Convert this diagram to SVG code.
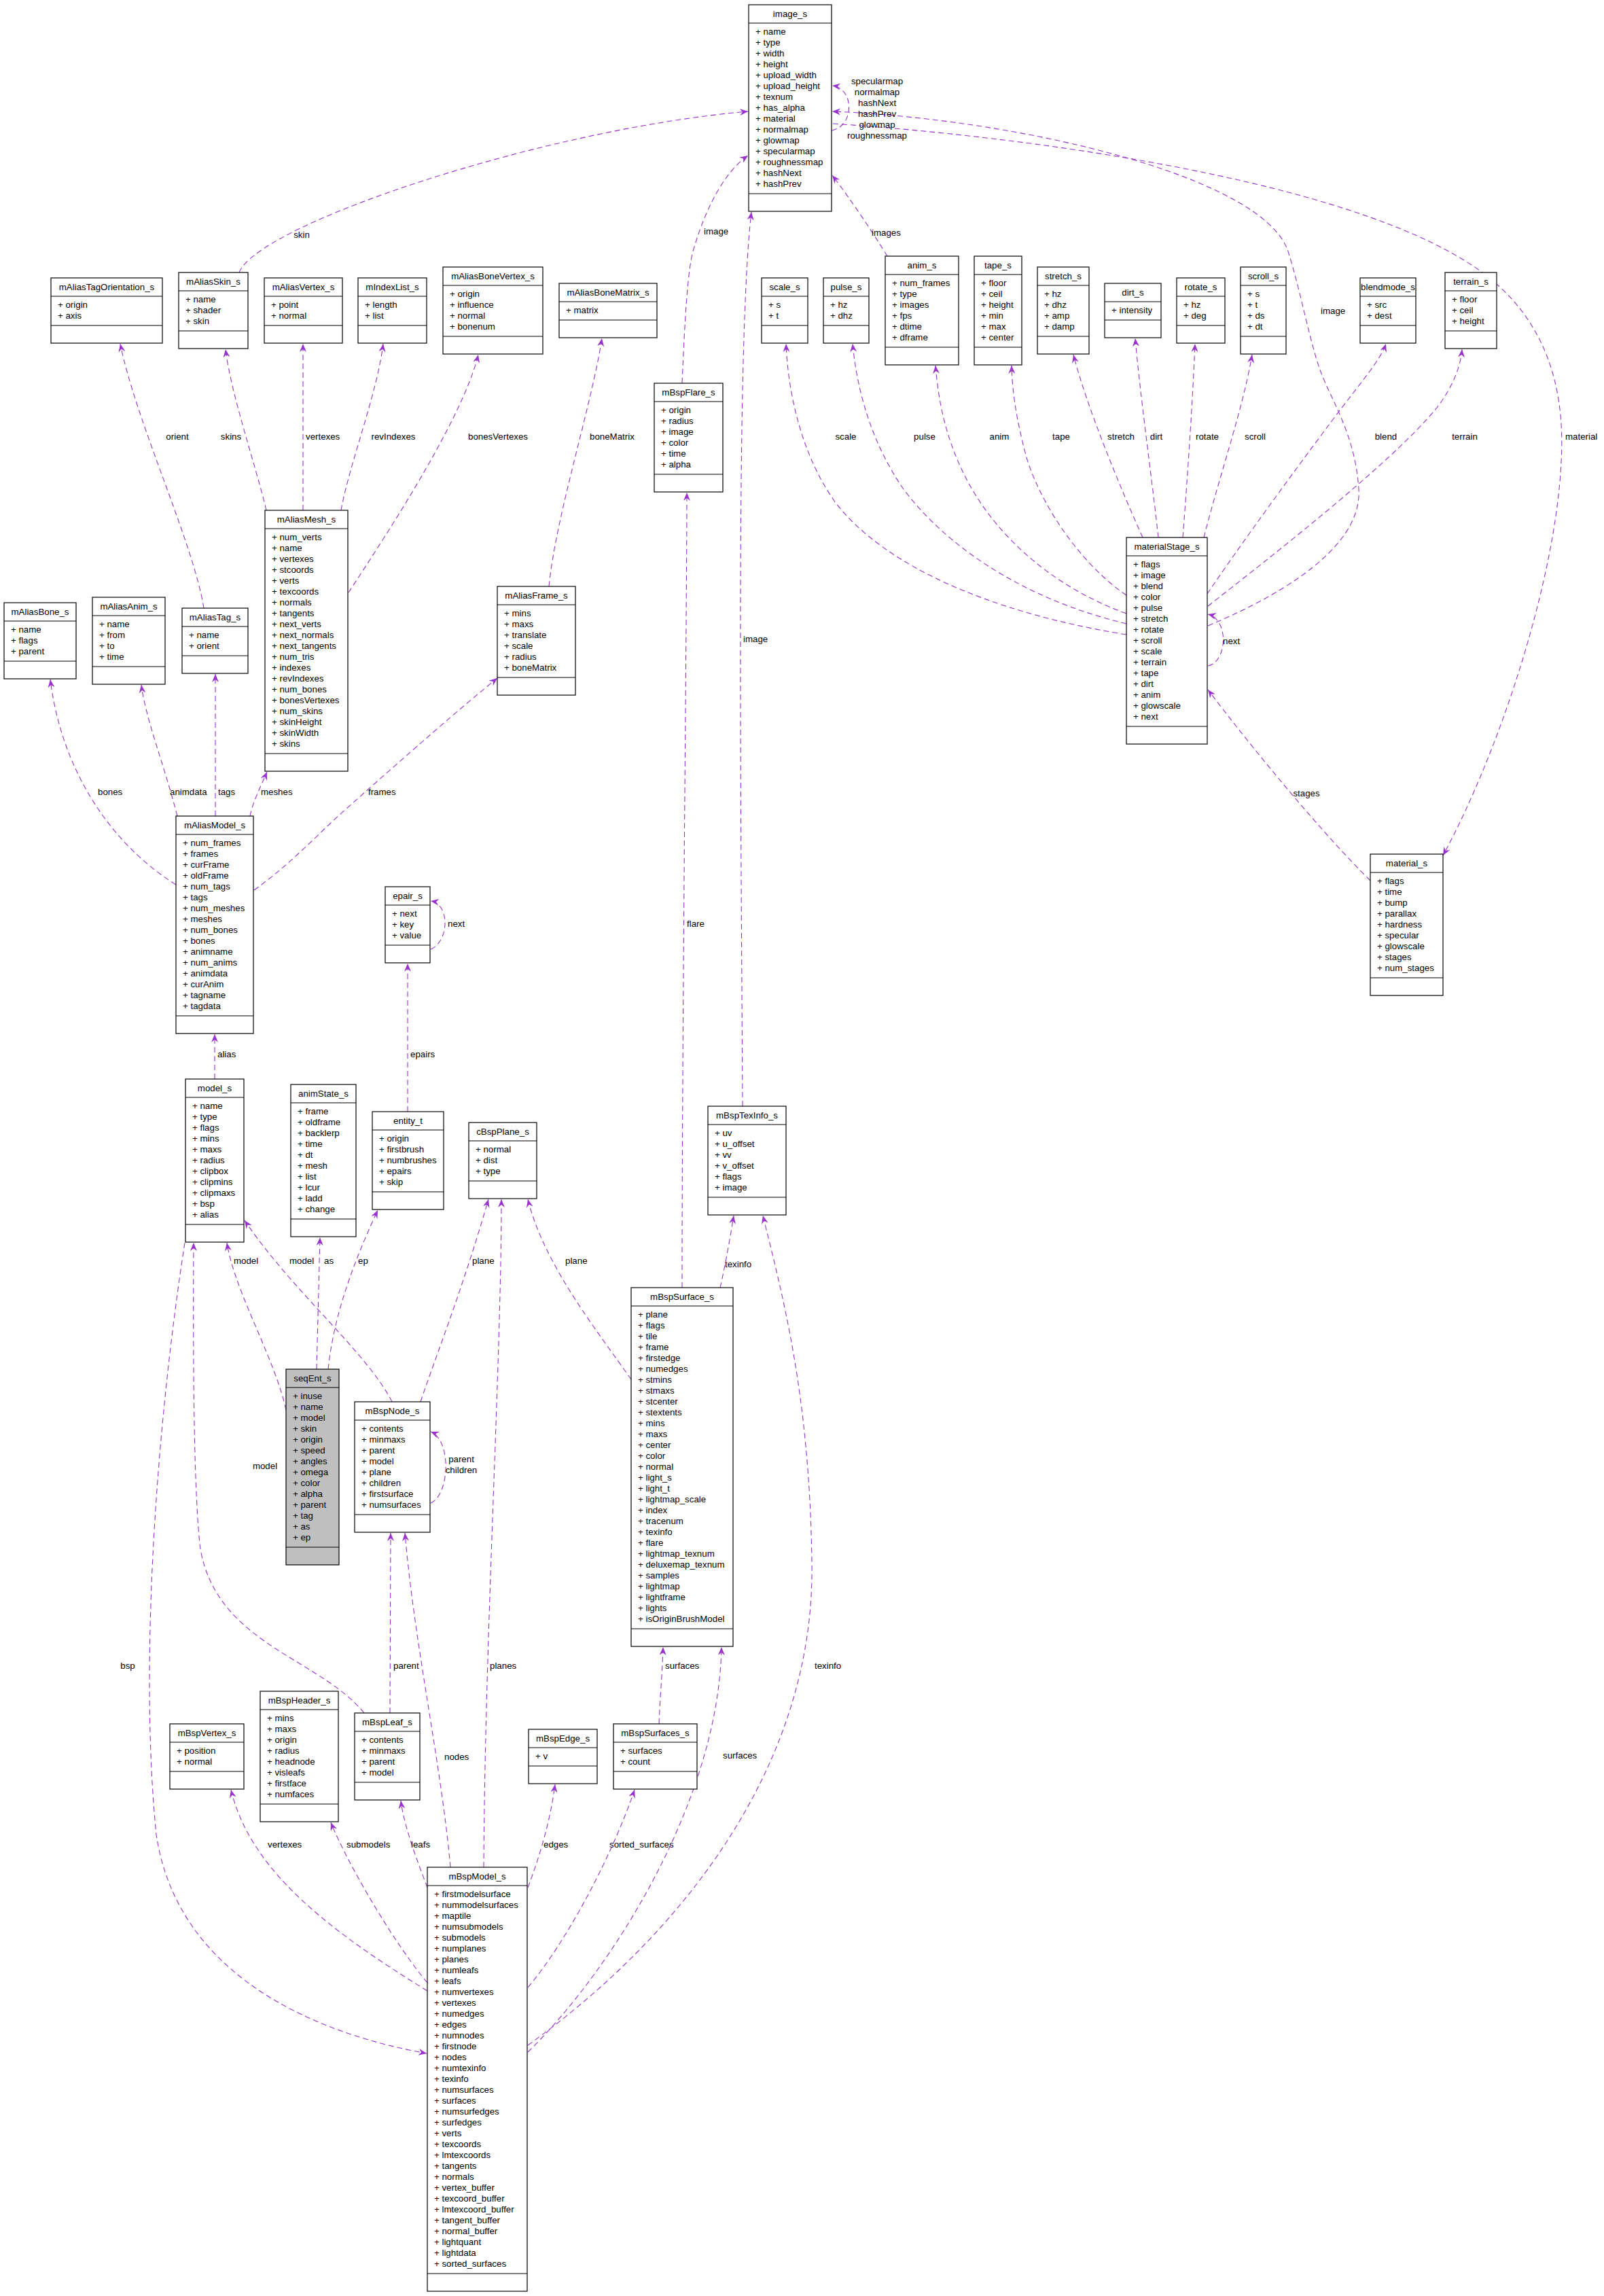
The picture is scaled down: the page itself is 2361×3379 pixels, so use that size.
<svg xmlns="http://www.w3.org/2000/svg" width="2361" height="3379" viewBox="0 0 2361 3379">
<defs>
<marker id="ah" viewBox="0 0 12 10" refX="12" refY="5" markerWidth="12" markerHeight="10" orient="auto" markerUnits="userSpaceOnUse"><path d="M0,0 L12,5 L0,10 L4,5 z" fill="#9a32cd"/></marker>
</defs>
<style>
.n rect{fill:#fff;stroke:#000;stroke-width:1.2}
.n line{stroke:#000;stroke-width:1.2}
#seqEnt_s rect{fill:#bfbfbf}
text{font-family:"Liberation Sans",Arial,Helvetica,sans-serif;font-size:13.3px;fill:#000}
.t,.m{text-anchor:middle}
.e path{fill:none;stroke:#9a32cd;stroke-width:1.1;stroke-dasharray:8,5;marker-end:url(#ah)}
</style>
<rect width="2361" height="3379" fill="#fff"/>
<g id="connectors" class="e">
<path d="M1224,192 C1258,186 1258,130 1225,126"/>
<path d="M352,401 C380,330 800,190 1101,164"/>
<path d="M1004,564 C1008,470 1012,400 1020,370 C1040,300 1070,250 1101,229"/>
<path d="M1093,1628 C1090,1100 1084,500 1106,312"/>
<path d="M1306,377 C1290,350 1250,290 1225,258"/>
<path d="M1778,921 C1900,870 2005,800 2000,720 C1995,640 1960,590 1944,547 C1928,504 1915,430 1896,370 C1860,260 1500,175 1225,164"/>
<path d="M1226,182 C1500,200 1950,260 2150,380 C2270,450 2305,560 2298,680 C2290,850 2210,1100 2124,1259"/>
<path d="M300,895 C285,800 200,620 177,506"/>
<path d="M392,751 C375,680 340,580 332,514"/>
<path d="M446,751 L446,506"/>
<path d="M502,751 C515,680 555,580 564,506"/>
<path d="M513,872 C560,800 680,620 704,522"/>
<path d="M808,863 C818,760 870,600 886,498"/>
<path d="M1658,934 C1450,900 1300,830 1230,740 C1180,670 1160,580 1157,506"/>
<path d="M1658,918 C1500,880 1390,800 1330,720 C1285,655 1262,580 1255,506"/>
<path d="M1658,903 C1540,860 1460,780 1420,700 C1395,650 1382,600 1377,538"/>
<path d="M1658,876 C1590,830 1530,740 1510,670 C1497,620 1490,580 1489,538"/>
<path d="M1682,791 C1650,720 1600,600 1580,522"/>
<path d="M1705,791 C1695,700 1678,580 1671,498"/>
<path d="M1741,791 C1748,700 1755,600 1759,506"/>
<path d="M1772,791 C1795,700 1830,600 1843,522"/>
<path d="M1777,874 C1820,810 1900,700 1960,620 C2005,560 2032,530 2040,506"/>
<path d="M1778,892 C1870,820 2050,680 2115,600 C2138,570 2150,540 2152,514"/>
<path d="M1778,980 C1806,975 1810,912 1778,904"/>
<path d="M2017,1296 C1950,1230 1850,1110 1778,1015"/>
<path d="M259,1302 C160,1240 90,1130 74,1000"/>
<path d="M261,1201 C240,1120 215,1060 208,1008"/>
<path d="M317,1201 L317,992"/>
<path d="M368,1201 C372,1180 385,1155 393,1136"/>
<path d="M374,1310 C430,1270 470,1225 510,1190 C600,1110 680,1040 732,998"/>
<path d="M316,1588 L316,1522"/>
<path d="M634,1397 C662,1385 662,1330 634,1326"/>
<path d="M600,1636 L600,1418"/>
<path d="M466,2015 L471,1821"/>
<path d="M483,2015 C490,1950 510,1880 556,1781"/>
<path d="M421,2075 C405,2000 345,1900 334,1829"/>
<path d="M577,2063 C540,1990 430,1900 360,1796"/>
<path d="M536,2521 C470,2440 320,2420 295,2280 C285,2200 284,2000 285,1829"/>
<path d="M619,2063 C640,2000 680,1900 719,1765"/>
<path d="M929,2030 C880,1960 800,1860 777,1765"/>
<path d="M712,2748 C714,2400 738,2000 738,1765"/>
<path d="M1060,1895 C1068,1860 1075,1820 1080,1789"/>
<path d="M777,3010 C1000,2850 1200,2600 1195,2300 C1192,2050 1150,1900 1123,1789"/>
<path d="M272,1829 C230,2100 205,2450 230,2700 C260,2900 450,2990 628,3022"/>
<path d="M663,2748 C650,2600 610,2420 596,2256"/>
<path d="M574,2521 L575,2256"/>
<path d="M634,2212 C662,2200 665,2120 634,2107"/>
<path d="M629,2778 C615,2740 595,2690 590,2650"/>
<path d="M629,2918 C580,2860 510,2740 487,2682"/>
<path d="M629,2930 C500,2850 370,2760 340,2634"/>
<path d="M777,2778 C795,2730 810,2680 817,2626"/>
<path d="M777,2925 C840,2850 905,2720 934,2634"/>
<path d="M970,2537 C972,2490 975,2460 976,2424"/>
<path d="M777,3020 C900,2900 1058,2650 1062,2424"/>
<path d="M1004,1895 C1004,1500 1011,900 1011,725"/>
<text class="m" x="1291" y="123.5">specularmap</text>
<text class="m" x="1291" y="139.5">normalmap</text>
<text class="m" x="1291" y="155.5">hashNext</text>
<text class="m" x="1291" y="171.5">hashPrev</text>
<text class="m" x="1291" y="187.5">glowmap</text>
<text class="m" x="1291" y="203.5">roughnessmap</text>
<text class="m" x="444" y="349.5">skin</text>
<text x="1036" y="344.5">image</text>
<text x="1283" y="346.5">images</text>
<text x="1944" y="461.5">image</text>
<text class="m" x="261" y="646.5">orient</text>
<text class="m" x="340" y="646.5">skins</text>
<text x="450" y="646.5">vertexes</text>
<text class="m" x="579" y="646.5">revIndexes</text>
<text x="689" y="646.5">bonesVertexes</text>
<text x="868" y="646.5">boneMatrix</text>
<text class="m" x="1245" y="646.5">scale</text>
<text class="m" x="1361" y="646.5">pulse</text>
<text class="m" x="1471" y="646.5">anim</text>
<text class="m" x="1562" y="646.5">tape</text>
<text class="m" x="1650" y="646.5">stretch</text>
<text class="m" x="1702" y="646.5">dirt</text>
<text x="1760" y="646.5">rotate</text>
<text x="1832" y="646.5">scroll</text>
<text class="m" x="2040" y="646.5">blend</text>
<text class="m" x="2156" y="646.5">terrain</text>
<text x="2304" y="646.5">material</text>
<text x="1094" y="945">image</text>
<text x="1800" y="947.5">next</text>
<text x="144" y="1169.5">bones</text>
<text x="250" y="1169.5">animdata</text>
<text x="321" y="1169.5">tags</text>
<text x="384" y="1169.5">meshes</text>
<text x="542" y="1169.5">frames</text>
<text class="m" x="1923" y="1172">stages</text>
<text x="1011" y="1363.5">flare</text>
<text x="659" y="1363.5">next</text>
<text x="320" y="1555.5">alias</text>
<text x="604" y="1555.5">epairs</text>
<text x="344" y="1859.5">model</text>
<text x="426" y="1859.5">model</text>
<text x="477" y="1859.5">as</text>
<text x="527" y="1859.5">ep</text>
<text x="695" y="1859.5">plane</text>
<text x="832" y="1859.5">plane</text>
<text x="1067" y="1864.5">texinfo</text>
<text class="m" x="390" y="2161.5">model</text>
<text class="m" x="679" y="2152">parent</text>
<text class="m" x="679" y="2168">children</text>
<text class="m" x="188" y="2455.5">bsp</text>
<text x="579" y="2455.5">parent</text>
<text x="721" y="2455.5">planes</text>
<text x="979" y="2455.5">surfaces</text>
<text x="1199" y="2455.5">texinfo</text>
<text x="654" y="2589.5">nodes</text>
<text x="1064" y="2587.5">surfaces</text>
<text x="394" y="2718.5">vertexes</text>
<text x="510" y="2718.5">submodels</text>
<text x="605" y="2718.5">leafs</text>
<text x="800" y="2718.5">edges</text>
<text x="897" y="2718.5">sorted_surfaces</text>
</g>
<g id="image_s" class="n"><rect x="1102" y="7" width="122" height="304"/><line x1="1102" y1="34" x2="1224" y2="34"/><line x1="1102" y1="285" x2="1224" y2="285"/><text class="t" x="1163" y="25">image_s</text><text x="1112" y="50.5"><tspan x="1112">+ name</tspan><tspan x="1112" dy="16">+ type</tspan><tspan x="1112" dy="16">+ width</tspan><tspan x="1112" dy="16">+ height</tspan><tspan x="1112" dy="16">+ upload_width</tspan><tspan x="1112" dy="16">+ upload_height</tspan><tspan x="1112" dy="16">+ texnum</tspan><tspan x="1112" dy="16">+ has_alpha</tspan><tspan x="1112" dy="16">+ material</tspan><tspan x="1112" dy="16">+ normalmap</tspan><tspan x="1112" dy="16">+ glowmap</tspan><tspan x="1112" dy="16">+ specularmap</tspan><tspan x="1112" dy="16">+ roughnessmap</tspan><tspan x="1112" dy="16">+ hashNext</tspan><tspan x="1112" dy="16">+ hashPrev</tspan></text></g>
<g id="mAliasTagOrientation_s" class="n"><rect x="75" y="409" width="164" height="96"/><line x1="75" y1="436" x2="239" y2="436"/><line x1="75" y1="479" x2="239" y2="479"/><text class="t" x="157" y="427">mAliasTagOrientation_s</text><text x="85" y="452.5"><tspan x="85">+ origin</tspan><tspan x="85" dy="16">+ axis</tspan></text></g>
<g id="mAliasSkin_s" class="n"><rect x="263" y="401" width="102" height="112"/><line x1="263" y1="428" x2="365" y2="428"/><line x1="263" y1="487" x2="365" y2="487"/><text class="t" x="314" y="419">mAliasSkin_s</text><text x="273" y="444.5"><tspan x="273">+ name</tspan><tspan x="273" dy="16">+ shader</tspan><tspan x="273" dy="16">+ skin</tspan></text></g>
<g id="mAliasVertex_s" class="n"><rect x="389" y="409" width="115" height="96"/><line x1="389" y1="436" x2="504" y2="436"/><line x1="389" y1="479" x2="504" y2="479"/><text class="t" x="446.5" y="427">mAliasVertex_s</text><text x="399" y="452.5"><tspan x="399">+ point</tspan><tspan x="399" dy="16">+ normal</tspan></text></g>
<g id="mIndexList_s" class="n"><rect x="527" y="409" width="101" height="96"/><line x1="527" y1="436" x2="628" y2="436"/><line x1="527" y1="479" x2="628" y2="479"/><text class="t" x="577.5" y="427">mIndexList_s</text><text x="537" y="452.5"><tspan x="537">+ length</tspan><tspan x="537" dy="16">+ list</tspan></text></g>
<g id="mAliasBoneVertex_s" class="n"><rect x="652" y="393" width="147" height="128"/><line x1="652" y1="420" x2="799" y2="420"/><line x1="652" y1="495" x2="799" y2="495"/><text class="t" x="725.5" y="411">mAliasBoneVertex_s</text><text x="662" y="436.5"><tspan x="662">+ origin</tspan><tspan x="662" dy="16">+ influence</tspan><tspan x="662" dy="16">+ normal</tspan><tspan x="662" dy="16">+ bonenum</tspan></text></g>
<g id="mAliasBoneMatrix_s" class="n"><rect x="823" y="417" width="144" height="80"/><line x1="823" y1="444" x2="967" y2="444"/><line x1="823" y1="471" x2="967" y2="471"/><text class="t" x="895" y="435">mAliasBoneMatrix_s</text><text x="833" y="460.5">+ matrix</text></g>
<g id="mBspFlare_s" class="n"><rect x="963" y="564" width="101" height="160"/><line x1="963" y1="591" x2="1064" y2="591"/><line x1="963" y1="698" x2="1064" y2="698"/><text class="t" x="1013.5" y="582">mBspFlare_s</text><text x="973" y="607.5"><tspan x="973">+ origin</tspan><tspan x="973" dy="16">+ radius</tspan><tspan x="973" dy="16">+ image</tspan><tspan x="973" dy="16">+ color</tspan><tspan x="973" dy="16">+ time</tspan><tspan x="973" dy="16">+ alpha</tspan></text></g>
<g id="scale_s" class="n"><rect x="1121" y="409" width="68" height="96"/><line x1="1121" y1="436" x2="1189" y2="436"/><line x1="1121" y1="479" x2="1189" y2="479"/><text class="t" x="1155" y="427">scale_s</text><text x="1131" y="452.5"><tspan x="1131">+ s</tspan><tspan x="1131" dy="16">+ t</tspan></text></g>
<g id="pulse_s" class="n"><rect x="1212" y="409" width="67" height="96"/><line x1="1212" y1="436" x2="1279" y2="436"/><line x1="1212" y1="479" x2="1279" y2="479"/><text class="t" x="1245.5" y="427">pulse_s</text><text x="1222" y="452.5"><tspan x="1222">+ hz</tspan><tspan x="1222" dy="16">+ dhz</tspan></text></g>
<g id="anim_s" class="n"><rect x="1303" y="377" width="108" height="160"/><line x1="1303" y1="404" x2="1411" y2="404"/><line x1="1303" y1="511" x2="1411" y2="511"/><text class="t" x="1357" y="395">anim_s</text><text x="1313" y="420.5"><tspan x="1313">+ num_frames</tspan><tspan x="1313" dy="16">+ type</tspan><tspan x="1313" dy="16">+ images</tspan><tspan x="1313" dy="16">+ fps</tspan><tspan x="1313" dy="16">+ dtime</tspan><tspan x="1313" dy="16">+ dframe</tspan></text></g>
<g id="tape_s" class="n"><rect x="1434" y="377" width="70" height="160"/><line x1="1434" y1="404" x2="1504" y2="404"/><line x1="1434" y1="511" x2="1504" y2="511"/><text class="t" x="1469" y="395">tape_s</text><text x="1444" y="420.5"><tspan x="1444">+ floor</tspan><tspan x="1444" dy="16">+ ceil</tspan><tspan x="1444" dy="16">+ height</tspan><tspan x="1444" dy="16">+ min</tspan><tspan x="1444" dy="16">+ max</tspan><tspan x="1444" dy="16">+ center</tspan></text></g>
<g id="stretch_s" class="n"><rect x="1527" y="393" width="76" height="128"/><line x1="1527" y1="420" x2="1603" y2="420"/><line x1="1527" y1="495" x2="1603" y2="495"/><text class="t" x="1565" y="411">stretch_s</text><text x="1537" y="436.5"><tspan x="1537">+ hz</tspan><tspan x="1537" dy="16">+ dhz</tspan><tspan x="1537" dy="16">+ amp</tspan><tspan x="1537" dy="16">+ damp</tspan></text></g>
<g id="dirt_s" class="n"><rect x="1626" y="417" width="83" height="80"/><line x1="1626" y1="444" x2="1709" y2="444"/><line x1="1626" y1="471" x2="1709" y2="471"/><text class="t" x="1667.5" y="435">dirt_s</text><text x="1636" y="460.5">+ intensity</text></g>
<g id="rotate_s" class="n"><rect x="1732" y="409" width="71" height="96"/><line x1="1732" y1="436" x2="1803" y2="436"/><line x1="1732" y1="479" x2="1803" y2="479"/><text class="t" x="1767.5" y="427">rotate_s</text><text x="1742" y="452.5"><tspan x="1742">+ hz</tspan><tspan x="1742" dy="16">+ deg</tspan></text></g>
<g id="scroll_s" class="n"><rect x="1826" y="393" width="67" height="128"/><line x1="1826" y1="420" x2="1893" y2="420"/><line x1="1826" y1="495" x2="1893" y2="495"/><text class="t" x="1859.5" y="411">scroll_s</text><text x="1836" y="436.5"><tspan x="1836">+ s</tspan><tspan x="1836" dy="16">+ t</tspan><tspan x="1836" dy="16">+ ds</tspan><tspan x="1836" dy="16">+ dt</tspan></text></g>
<g id="blendmode_s" class="n"><rect x="2002" y="409" width="82" height="96"/><line x1="2002" y1="436" x2="2084" y2="436"/><line x1="2002" y1="479" x2="2084" y2="479"/><text class="t" x="2043" y="427">blendmode_s</text><text x="2012" y="452.5"><tspan x="2012">+ src</tspan><tspan x="2012" dy="16">+ dest</tspan></text></g>
<g id="terrain_s" class="n"><rect x="2127" y="401" width="76" height="112"/><line x1="2127" y1="428" x2="2203" y2="428"/><line x1="2127" y1="487" x2="2203" y2="487"/><text class="t" x="2165" y="419">terrain_s</text><text x="2137" y="444.5"><tspan x="2137">+ floor</tspan><tspan x="2137" dy="16">+ ceil</tspan><tspan x="2137" dy="16">+ height</tspan></text></g>
<g id="mAliasMesh_s" class="n"><rect x="390" y="751" width="122" height="384"/><line x1="390" y1="778" x2="512" y2="778"/><line x1="390" y1="1109" x2="512" y2="1109"/><text class="t" x="451" y="769">mAliasMesh_s</text><text x="400" y="794.5"><tspan x="400">+ num_verts</tspan><tspan x="400" dy="16">+ name</tspan><tspan x="400" dy="16">+ vertexes</tspan><tspan x="400" dy="16">+ stcoords</tspan><tspan x="400" dy="16">+ verts</tspan><tspan x="400" dy="16">+ texcoords</tspan><tspan x="400" dy="16">+ normals</tspan><tspan x="400" dy="16">+ tangents</tspan><tspan x="400" dy="16">+ next_verts</tspan><tspan x="400" dy="16">+ next_normals</tspan><tspan x="400" dy="16">+ next_tangents</tspan><tspan x="400" dy="16">+ num_tris</tspan><tspan x="400" dy="16">+ indexes</tspan><tspan x="400" dy="16">+ revIndexes</tspan><tspan x="400" dy="16">+ num_bones</tspan><tspan x="400" dy="16">+ bonesVertexes</tspan><tspan x="400" dy="16">+ num_skins</tspan><tspan x="400" dy="16">+ skinHeight</tspan><tspan x="400" dy="16">+ skinWidth</tspan><tspan x="400" dy="16">+ skins</tspan></text></g>
<g id="mAliasBone_s" class="n"><rect x="6" y="887" width="106" height="112"/><line x1="6" y1="914" x2="112" y2="914"/><line x1="6" y1="973" x2="112" y2="973"/><text class="t" x="59" y="905">mAliasBone_s</text><text x="16" y="930.5"><tspan x="16">+ name</tspan><tspan x="16" dy="16">+ flags</tspan><tspan x="16" dy="16">+ parent</tspan></text></g>
<g id="mAliasAnim_s" class="n"><rect x="136" y="879" width="107" height="128"/><line x1="136" y1="906" x2="243" y2="906"/><line x1="136" y1="981" x2="243" y2="981"/><text class="t" x="189.5" y="897">mAliasAnim_s</text><text x="146" y="922.5"><tspan x="146">+ name</tspan><tspan x="146" dy="16">+ from</tspan><tspan x="146" dy="16">+ to</tspan><tspan x="146" dy="16">+ time</tspan></text></g>
<g id="mAliasTag_s" class="n"><rect x="268" y="895" width="97" height="96"/><line x1="268" y1="922" x2="365" y2="922"/><line x1="268" y1="965" x2="365" y2="965"/><text class="t" x="316.5" y="913">mAliasTag_s</text><text x="278" y="938.5"><tspan x="278">+ name</tspan><tspan x="278" dy="16">+ orient</tspan></text></g>
<g id="mAliasFrame_s" class="n"><rect x="732" y="863" width="115" height="160"/><line x1="732" y1="890" x2="847" y2="890"/><line x1="732" y1="997" x2="847" y2="997"/><text class="t" x="789.5" y="881">mAliasFrame_s</text><text x="742" y="906.5"><tspan x="742">+ mins</tspan><tspan x="742" dy="16">+ maxs</tspan><tspan x="742" dy="16">+ translate</tspan><tspan x="742" dy="16">+ scale</tspan><tspan x="742" dy="16">+ radius</tspan><tspan x="742" dy="16">+ boneMatrix</tspan></text></g>
<g id="materialStage_s" class="n"><rect x="1658" y="791" width="119" height="304"/><line x1="1658" y1="818" x2="1777" y2="818"/><line x1="1658" y1="1069" x2="1777" y2="1069"/><text class="t" x="1717.5" y="809">materialStage_s</text><text x="1668" y="834.5"><tspan x="1668">+ flags</tspan><tspan x="1668" dy="16">+ image</tspan><tspan x="1668" dy="16">+ blend</tspan><tspan x="1668" dy="16">+ color</tspan><tspan x="1668" dy="16">+ pulse</tspan><tspan x="1668" dy="16">+ stretch</tspan><tspan x="1668" dy="16">+ rotate</tspan><tspan x="1668" dy="16">+ scroll</tspan><tspan x="1668" dy="16">+ scale</tspan><tspan x="1668" dy="16">+ terrain</tspan><tspan x="1668" dy="16">+ tape</tspan><tspan x="1668" dy="16">+ dirt</tspan><tspan x="1668" dy="16">+ anim</tspan><tspan x="1668" dy="16">+ glowscale</tspan><tspan x="1668" dy="16">+ next</tspan></text></g>
<g id="material_s" class="n"><rect x="2017" y="1257" width="107" height="208"/><line x1="2017" y1="1284" x2="2124" y2="1284"/><line x1="2017" y1="1439" x2="2124" y2="1439"/><text class="t" x="2070.5" y="1275">material_s</text><text x="2027" y="1300.5"><tspan x="2027">+ flags</tspan><tspan x="2027" dy="16">+ time</tspan><tspan x="2027" dy="16">+ bump</tspan><tspan x="2027" dy="16">+ parallax</tspan><tspan x="2027" dy="16">+ hardness</tspan><tspan x="2027" dy="16">+ specular</tspan><tspan x="2027" dy="16">+ glowscale</tspan><tspan x="2027" dy="16">+ stages</tspan><tspan x="2027" dy="16">+ num_stages</tspan></text></g>
<g id="mAliasModel_s" class="n"><rect x="259" y="1201" width="114" height="320"/><line x1="259" y1="1228" x2="373" y2="1228"/><line x1="259" y1="1495" x2="373" y2="1495"/><text class="t" x="316" y="1219">mAliasModel_s</text><text x="269" y="1244.5"><tspan x="269">+ num_frames</tspan><tspan x="269" dy="16">+ frames</tspan><tspan x="269" dy="16">+ curFrame</tspan><tspan x="269" dy="16">+ oldFrame</tspan><tspan x="269" dy="16">+ num_tags</tspan><tspan x="269" dy="16">+ tags</tspan><tspan x="269" dy="16">+ num_meshes</tspan><tspan x="269" dy="16">+ meshes</tspan><tspan x="269" dy="16">+ num_bones</tspan><tspan x="269" dy="16">+ bones</tspan><tspan x="269" dy="16">+ animname</tspan><tspan x="269" dy="16">+ num_anims</tspan><tspan x="269" dy="16">+ animdata</tspan><tspan x="269" dy="16">+ curAnim</tspan><tspan x="269" dy="16">+ tagname</tspan><tspan x="269" dy="16">+ tagdata</tspan></text></g>
<g id="epair_s" class="n"><rect x="567" y="1305" width="66" height="112"/><line x1="567" y1="1332" x2="633" y2="1332"/><line x1="567" y1="1391" x2="633" y2="1391"/><text class="t" x="600" y="1323">epair_s</text><text x="577" y="1348.5"><tspan x="577">+ next</tspan><tspan x="577" dy="16">+ key</tspan><tspan x="577" dy="16">+ value</tspan></text></g>
<g id="model_s" class="n"><rect x="273" y="1588" width="86" height="240"/><line x1="273" y1="1615" x2="359" y2="1615"/><line x1="273" y1="1802" x2="359" y2="1802"/><text class="t" x="316" y="1606">model_s</text><text x="283" y="1631.5"><tspan x="283">+ name</tspan><tspan x="283" dy="16">+ type</tspan><tspan x="283" dy="16">+ flags</tspan><tspan x="283" dy="16">+ mins</tspan><tspan x="283" dy="16">+ maxs</tspan><tspan x="283" dy="16">+ radius</tspan><tspan x="283" dy="16">+ clipbox</tspan><tspan x="283" dy="16">+ clipmins</tspan><tspan x="283" dy="16">+ clipmaxs</tspan><tspan x="283" dy="16">+ bsp</tspan><tspan x="283" dy="16">+ alias</tspan></text></g>
<g id="animState_s" class="n"><rect x="428" y="1596" width="96" height="224"/><line x1="428" y1="1623" x2="524" y2="1623"/><line x1="428" y1="1794" x2="524" y2="1794"/><text class="t" x="476" y="1614">animState_s</text><text x="438" y="1639.5"><tspan x="438">+ frame</tspan><tspan x="438" dy="16">+ oldframe</tspan><tspan x="438" dy="16">+ backlerp</tspan><tspan x="438" dy="16">+ time</tspan><tspan x="438" dy="16">+ dt</tspan><tspan x="438" dy="16">+ mesh</tspan><tspan x="438" dy="16">+ list</tspan><tspan x="438" dy="16">+ lcur</tspan><tspan x="438" dy="16">+ ladd</tspan><tspan x="438" dy="16">+ change</tspan></text></g>
<g id="entity_t" class="n"><rect x="548" y="1636" width="105" height="144"/><line x1="548" y1="1663" x2="653" y2="1663"/><line x1="548" y1="1754" x2="653" y2="1754"/><text class="t" x="600.5" y="1654">entity_t</text><text x="558" y="1679.5"><tspan x="558">+ origin</tspan><tspan x="558" dy="16">+ firstbrush</tspan><tspan x="558" dy="16">+ numbrushes</tspan><tspan x="558" dy="16">+ epairs</tspan><tspan x="558" dy="16">+ skip</tspan></text></g>
<g id="cBspPlane_s" class="n"><rect x="690" y="1652" width="100" height="112"/><line x1="690" y1="1679" x2="790" y2="1679"/><line x1="690" y1="1738" x2="790" y2="1738"/><text class="t" x="740" y="1670">cBspPlane_s</text><text x="700" y="1695.5"><tspan x="700">+ normal</tspan><tspan x="700" dy="16">+ dist</tspan><tspan x="700" dy="16">+ type</tspan></text></g>
<g id="mBspTexInfo_s" class="n"><rect x="1042" y="1628" width="115" height="160"/><line x1="1042" y1="1655" x2="1157" y2="1655"/><line x1="1042" y1="1762" x2="1157" y2="1762"/><text class="t" x="1099.5" y="1646">mBspTexInfo_s</text><text x="1052" y="1671.5"><tspan x="1052">+ uv</tspan><tspan x="1052" dy="16">+ u_offset</tspan><tspan x="1052" dy="16">+ vv</tspan><tspan x="1052" dy="16">+ v_offset</tspan><tspan x="1052" dy="16">+ flags</tspan><tspan x="1052" dy="16">+ image</tspan></text></g>
<g id="mBspSurface_s" class="n"><rect x="929" y="1895" width="150" height="528"/><line x1="929" y1="1922" x2="1079" y2="1922"/><line x1="929" y1="2397" x2="1079" y2="2397"/><text class="t" x="1004" y="1913">mBspSurface_s</text><text x="939" y="1938.5"><tspan x="939">+ plane</tspan><tspan x="939" dy="16">+ flags</tspan><tspan x="939" dy="16">+ tile</tspan><tspan x="939" dy="16">+ frame</tspan><tspan x="939" dy="16">+ firstedge</tspan><tspan x="939" dy="16">+ numedges</tspan><tspan x="939" dy="16">+ stmins</tspan><tspan x="939" dy="16">+ stmaxs</tspan><tspan x="939" dy="16">+ stcenter</tspan><tspan x="939" dy="16">+ stextents</tspan><tspan x="939" dy="16">+ mins</tspan><tspan x="939" dy="16">+ maxs</tspan><tspan x="939" dy="16">+ center</tspan><tspan x="939" dy="16">+ color</tspan><tspan x="939" dy="16">+ normal</tspan><tspan x="939" dy="16">+ light_s</tspan><tspan x="939" dy="16">+ light_t</tspan><tspan x="939" dy="16">+ lightmap_scale</tspan><tspan x="939" dy="16">+ index</tspan><tspan x="939" dy="16">+ tracenum</tspan><tspan x="939" dy="16">+ texinfo</tspan><tspan x="939" dy="16">+ flare</tspan><tspan x="939" dy="16">+ lightmap_texnum</tspan><tspan x="939" dy="16">+ deluxemap_texnum</tspan><tspan x="939" dy="16">+ samples</tspan><tspan x="939" dy="16">+ lightmap</tspan><tspan x="939" dy="16">+ lightframe</tspan><tspan x="939" dy="16">+ lights</tspan><tspan x="939" dy="16">+ isOriginBrushModel</tspan></text></g>
<g id="seqEnt_s" class="n"><rect x="421" y="2015" width="78" height="288"/><line x1="421" y1="2042" x2="499" y2="2042"/><line x1="421" y1="2277" x2="499" y2="2277"/><text class="t" x="460" y="2033">seqEnt_s</text><text x="431" y="2058.5"><tspan x="431">+ inuse</tspan><tspan x="431" dy="16">+ name</tspan><tspan x="431" dy="16">+ model</tspan><tspan x="431" dy="16">+ skin</tspan><tspan x="431" dy="16">+ origin</tspan><tspan x="431" dy="16">+ speed</tspan><tspan x="431" dy="16">+ angles</tspan><tspan x="431" dy="16">+ omega</tspan><tspan x="431" dy="16">+ color</tspan><tspan x="431" dy="16">+ alpha</tspan><tspan x="431" dy="16">+ parent</tspan><tspan x="431" dy="16">+ tag</tspan><tspan x="431" dy="16">+ as</tspan><tspan x="431" dy="16">+ ep</tspan></text></g>
<g id="mBspNode_s" class="n"><rect x="522" y="2063" width="111" height="192"/><line x1="522" y1="2090" x2="633" y2="2090"/><line x1="522" y1="2229" x2="633" y2="2229"/><text class="t" x="577.5" y="2081">mBspNode_s</text><text x="532" y="2106.5"><tspan x="532">+ contents</tspan><tspan x="532" dy="16">+ minmaxs</tspan><tspan x="532" dy="16">+ parent</tspan><tspan x="532" dy="16">+ model</tspan><tspan x="532" dy="16">+ plane</tspan><tspan x="532" dy="16">+ children</tspan><tspan x="532" dy="16">+ firstsurface</tspan><tspan x="532" dy="16">+ numsurfaces</tspan></text></g>
<g id="mBspVertex_s" class="n"><rect x="250" y="2537" width="109" height="96"/><line x1="250" y1="2564" x2="359" y2="2564"/><line x1="250" y1="2607" x2="359" y2="2607"/><text class="t" x="304.5" y="2555">mBspVertex_s</text><text x="260" y="2580.5"><tspan x="260">+ position</tspan><tspan x="260" dy="16">+ normal</tspan></text></g>
<g id="mBspHeader_s" class="n"><rect x="383" y="2489" width="115" height="192"/><line x1="383" y1="2516" x2="498" y2="2516"/><line x1="383" y1="2655" x2="498" y2="2655"/><text class="t" x="440.5" y="2507">mBspHeader_s</text><text x="393" y="2532.5"><tspan x="393">+ mins</tspan><tspan x="393" dy="16">+ maxs</tspan><tspan x="393" dy="16">+ origin</tspan><tspan x="393" dy="16">+ radius</tspan><tspan x="393" dy="16">+ headnode</tspan><tspan x="393" dy="16">+ visleafs</tspan><tspan x="393" dy="16">+ firstface</tspan><tspan x="393" dy="16">+ numfaces</tspan></text></g>
<g id="mBspLeaf_s" class="n"><rect x="522" y="2521" width="96" height="128"/><line x1="522" y1="2548" x2="618" y2="2548"/><line x1="522" y1="2623" x2="618" y2="2623"/><text class="t" x="570" y="2539">mBspLeaf_s</text><text x="532" y="2564.5"><tspan x="532">+ contents</tspan><tspan x="532" dy="16">+ minmaxs</tspan><tspan x="532" dy="16">+ parent</tspan><tspan x="532" dy="16">+ model</tspan></text></g>
<g id="mBspEdge_s" class="n"><rect x="778" y="2545" width="101" height="80"/><line x1="778" y1="2572" x2="879" y2="2572"/><line x1="778" y1="2599" x2="879" y2="2599"/><text class="t" x="828.5" y="2563">mBspEdge_s</text><text x="788" y="2588.5">+ v</text></g>
<g id="mBspSurfaces_s" class="n"><rect x="903" y="2537" width="123" height="96"/><line x1="903" y1="2564" x2="1026" y2="2564"/><line x1="903" y1="2607" x2="1026" y2="2607"/><text class="t" x="964.5" y="2555">mBspSurfaces_s</text><text x="913" y="2580.5"><tspan x="913">+ surfaces</tspan><tspan x="913" dy="16">+ count</tspan></text></g>
<g id="mBspModel_s" class="n"><rect x="629" y="2748" width="147" height="624"/><line x1="629" y1="2775" x2="776" y2="2775"/><line x1="629" y1="3346" x2="776" y2="3346"/><text class="t" x="702.5" y="2766">mBspModel_s</text><text x="639" y="2791.5"><tspan x="639">+ firstmodelsurface</tspan><tspan x="639" dy="16">+ nummodelsurfaces</tspan><tspan x="639" dy="16">+ maptile</tspan><tspan x="639" dy="16">+ numsubmodels</tspan><tspan x="639" dy="16">+ submodels</tspan><tspan x="639" dy="16">+ numplanes</tspan><tspan x="639" dy="16">+ planes</tspan><tspan x="639" dy="16">+ numleafs</tspan><tspan x="639" dy="16">+ leafs</tspan><tspan x="639" dy="16">+ numvertexes</tspan><tspan x="639" dy="16">+ vertexes</tspan><tspan x="639" dy="16">+ numedges</tspan><tspan x="639" dy="16">+ edges</tspan><tspan x="639" dy="16">+ numnodes</tspan><tspan x="639" dy="16">+ firstnode</tspan><tspan x="639" dy="16">+ nodes</tspan><tspan x="639" dy="16">+ numtexinfo</tspan><tspan x="639" dy="16">+ texinfo</tspan><tspan x="639" dy="16">+ numsurfaces</tspan><tspan x="639" dy="16">+ surfaces</tspan><tspan x="639" dy="16">+ numsurfedges</tspan><tspan x="639" dy="16">+ surfedges</tspan><tspan x="639" dy="16">+ verts</tspan><tspan x="639" dy="16">+ texcoords</tspan><tspan x="639" dy="16">+ lmtexcoords</tspan><tspan x="639" dy="16">+ tangents</tspan><tspan x="639" dy="16">+ normals</tspan><tspan x="639" dy="16">+ vertex_buffer</tspan><tspan x="639" dy="16">+ texcoord_buffer</tspan><tspan x="639" dy="16">+ lmtexcoord_buffer</tspan><tspan x="639" dy="16">+ tangent_buffer</tspan><tspan x="639" dy="16">+ normal_buffer</tspan><tspan x="639" dy="16">+ lightquant</tspan><tspan x="639" dy="16">+ lightdata</tspan><tspan x="639" dy="16">+ sorted_surfaces</tspan></text></g>
</svg>
